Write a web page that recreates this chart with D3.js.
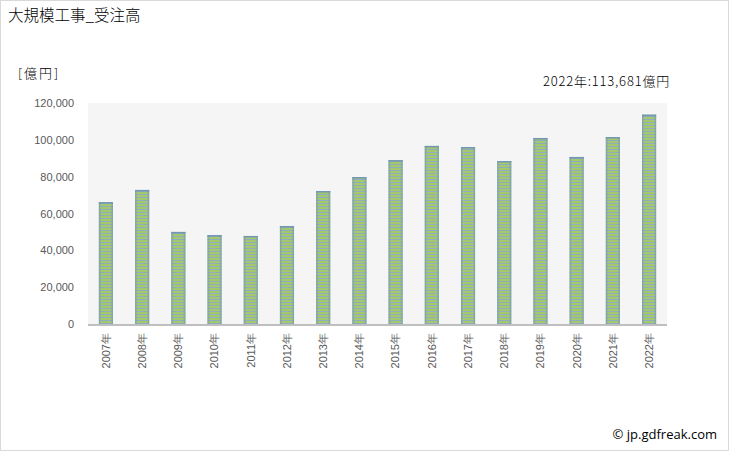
<!DOCTYPE html>
<html><head><meta charset="utf-8">
<script src="https://d3js.org/d3.v7.min.js"></script>
<style>
html,body{margin:0;padding:0;background:#fff;}
svg{display:block;font-family:"Noto Sans CJK JP","Noto Sans",sans-serif;}
</style></head>
<body><svg id="chart" width="729" height="451"></svg>
<script>
const years = ["2007年","2008年","2009年","2010年","2011年","2012年","2013年","2014年","2015年","2016年","2017年","2018年","2019年","2020年","2021年","2022年"];
const values = [66200,72800,50000,48300,47800,53200,72200,79800,89000,96700,96100,88500,101000,90700,101500,113681];
const yTicks = [0,20000,40000,60000,80000,100000,120000];
const title = "大規模工事_受注高";
const unitLabel = "[億円]";
const note = "2022年:113,681億円";
const credit = "© jp.gdfreak.com";

const svg = d3.select("#chart");
const W = 729, H = 451;
const m = {left:88, right:62, top:103, bottom:127};

svg.append("rect").attr("x",0.5).attr("y",0.5).attr("width",W-1).attr("height",H-1)
  .attr("fill","#fff").attr("stroke","#d9d9d9");

const defs = svg.append("defs");
const pat = defs.append("pattern").attr("id","stripe").attr("patternUnits","userSpaceOnUse")
  .attr("width",4).attr("height",3);
pat.append("rect").attr("width",4).attr("height",3).attr("fill","#a6c86c");
pat.append("rect").attr("y",2).attr("width",4).attr("height",1).attr("fill","#8eaec0");
const grad = defs.append("linearGradient").attr("id","edge").attr("x1","0").attr("x2","1");
grad.append("stop").attr("offset","0").attr("stop-color","#6f94b8").attr("stop-opacity",0.75);
grad.append("stop").attr("offset","0.18").attr("stop-color","#6f94b8").attr("stop-opacity",0);
grad.append("stop").attr("offset","0.82").attr("stop-color","#6f94b8").attr("stop-opacity",0);
grad.append("stop").attr("offset","1").attr("stop-color","#6f94b8").attr("stop-opacity",0.75);

const x = d3.scaleBand().domain(years).range([m.left, W-m.right]).paddingInner(0.61).paddingOuter(0.3);
const y = d3.scaleLinear().domain([0,120000]).range([H-m.bottom, m.top]);

svg.append("rect").attr("x",m.left).attr("y",m.top).attr("width",W-m.right-m.left)
  .attr("height",H-m.bottom-m.top).attr("fill","#f5f5f5");

const bars = svg.append("g");
years.forEach((yr,i)=>{
  const bx = x(yr), bw = x.bandwidth(), by = y(values[i]), bh = y(0)-y(values[i]);
  bars.append("rect").attr("x",bx).attr("y",by).attr("width",bw).attr("height",bh).attr("fill","url(#stripe)");
  bars.append("rect").attr("x",bx).attr("y",by).attr("width",bw).attr("height",bh).attr("fill","url(#edge)");
  bars.append("rect").attr("x",bx).attr("y",by).attr("width",bw).attr("height",1.5).attr("fill","#7396b6");
});

// baseline
svg.append("line").attr("x1",m.left).attr("x2",W-m.right).attr("y1",y(0)+1).attr("y2",y(0)+1)
  .attr("stroke","#bfbfbf").attr("stroke-width",2);

// y axis
const yAxis = d3.axisLeft(y).tickValues(yTicks).tickFormat(d3.format(",")).tickSize(0).tickPadding(14);
const gy = svg.append("g").attr("transform",`translate(${m.left},0)`).call(yAxis);
gy.select(".domain").remove();
gy.selectAll("text").attr("fill","#595959").style("font-size","11px").style("font-family","'Liberation Sans',Arial,sans-serif");

// x axis
const xAxis = d3.axisBottom(x).tickSize(0);
const gx = svg.append("g").attr("transform",`translate(0,${y(0)})`).call(xAxis);
gx.select(".domain").remove();
gx.selectAll("text").attr("fill","#595959").style("font-size","11px")
  .attr("transform","rotate(-90)").attr("text-anchor","end").attr("dy","0.35em")
  .attr("x",-9).attr("y",0);

svg.append("text").attr("x",8).attr("y",21).text(title).style("font-size","15.5px").style("font-weight","300").attr("fill","#000");
svg.append("text").attr("x",18).attr("y",78).text(unitLabel).style("font-size","13px").style("letter-spacing","2px").style("font-weight","300").attr("fill","#000");
svg.append("text").attr("x",670).attr("y",86).attr("text-anchor","end").text(note).style("font-size","13px").style("letter-spacing","0.8px").style("font-weight","300").attr("fill","#000");
svg.append("text").attr("x",717).attr("y",439).attr("text-anchor","end").text(credit)
  .style("font-size","13px").style("font-family","'Open Sans','Noto Sans',sans-serif").attr("fill","#000");
</script></body></html>
